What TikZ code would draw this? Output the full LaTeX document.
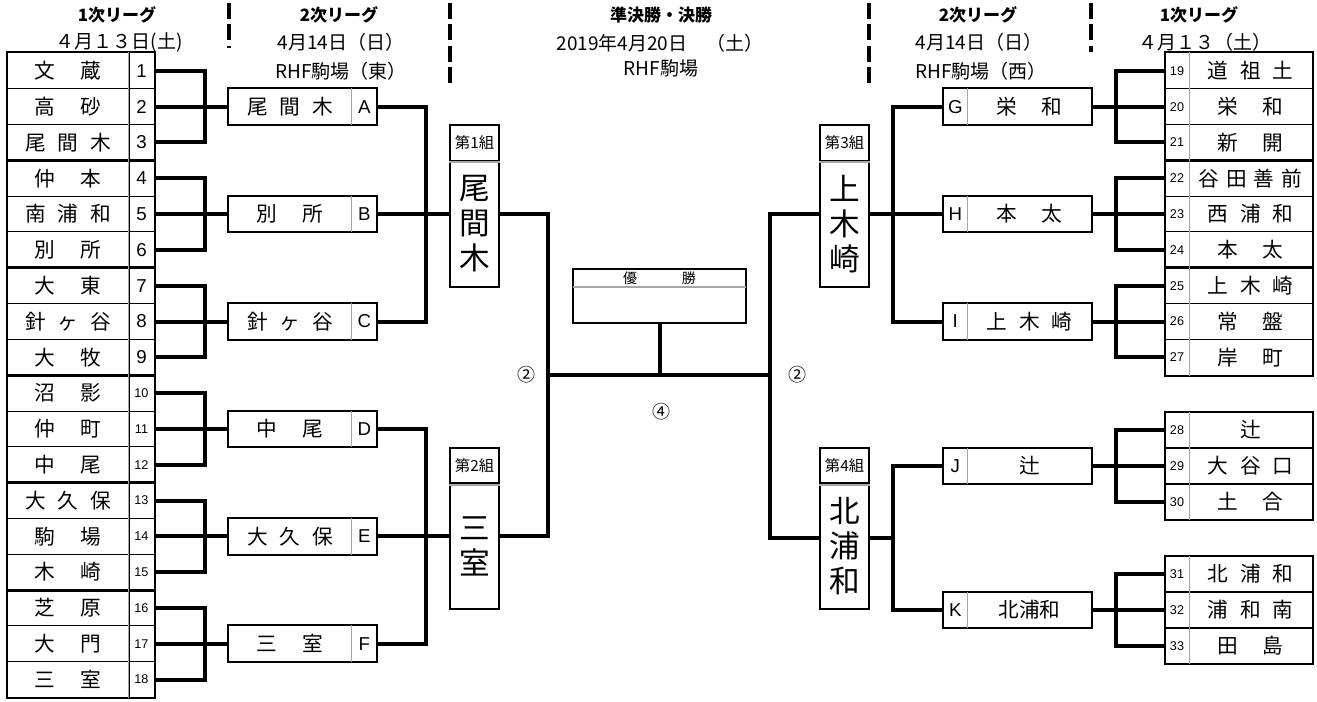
\documentclass[tikz,border=0pt]{standalone}
\usepackage{fontspec}
\setmainfont{Noto Sans CJK JP}
\newfontfamily\arialfont{Liberation Sans}
\usepackage{tikz}
\newcommand\namefont{\fontsize{15.5pt}{17pt}\selectfont}
\newcommand\bignum{\arialfont\fontsize{14pt}{15pt}\selectfont}
\newcommand\smallnum{\arialfont\fontsize{9.5pt}{10pt}\selectfont}
\newcommand\groupfont{\fontsize{23pt}{26.25pt}\selectfont}
\newcommand\two[2]{#1\hspace{1.2em}#2}
\newcommand\three[3]{#1\hspace{.57em}#2\hspace{.57em}#3}
\newcommand\four[4]{#1\hspace{.33em}#2\hspace{.33em}#3\hspace{.33em}#4}
\tikzstyle{team} = [draw=black, line width=0.75pt, minimum width=91.5pt, minimum height=26.85pt, inner sep=0pt, font=\namefont]
\tikzstyle{num} = [draw=black, line width=0.75pt, minimum width=18.75pt, minimum height=26.85pt, inner sep=0pt, font=\bignum]
\tikzstyle{snum} = [num, font=\smallnum]
\tikzstyle{rteam} = [team, minimum width=92.25pt]
\tikzstyle{rnum} = [snum, minimum width=18pt]
\tikzstyle{tablebox} = [line width=1.5pt]
\tikzstyle{divline} = [line width=0.75pt, draw=gray!70]
\tikzstyle{win} = [minimum width=93pt, minimum height=27pt, inner sep=0pt, font=\namefont]
\tikzstyle{letter} = [minimum width=18.5pt, minimum height=27pt, inner sep=0pt, font=\bignum]
\tikzstyle{winbox} = [draw=black, line width=1.5pt]
\tikzstyle{grouphead} = [draw=black, line width=1.5pt, minimum width=36.75pt, minimum height=27pt, inner sep=0pt, font=\fontsize{11.5pt}{12pt}\selectfont]
\tikzstyle{groupbody} = [draw=black, line width=1.5pt, minimum width=36.75pt, minimum height=94.5pt, inner sep=0pt, align=center, font=\groupfont]
\tikzstyle{bracket} = [line width=3pt]
\tikzstyle{head} = [inner sep=0pt, font=\fontsize{12.75pt}{14pt}\selectfont\bfseries]
\tikzstyle{date} = [inner sep=0pt, font=\fontsize{14.25pt}{16pt}\selectfont]
\tikzstyle{sep} = [line width=2.6pt, dash pattern=on 12pt off 4pt]
\tikzstyle{round} = [inner sep=0pt, font=\fontsize{13.5pt}{14pt}\selectfont]

\begin{document}
\begin{tikzpicture}[x=0.75pt,y=-0.75pt]
  \useasboundingbox (0,0) rectangle (1317,702);
  % headers
  \draw[sep] (229,3) -- (229,48);
  \draw[sep] (450,3) -- (450,88);
  \draw[sep] (869,3) -- (869,88);
  \draw[sep] (1091,3) -- (1091,52);
  \node[head](h1) at (117,15){1次リーグ};
  \node[date](d1) at (119,42){４月１３日(土)};
  \node[head](h2) at (339,15){2次リーグ};
  \node[date](d2) at (341,42){4月14日（日）};
  \node[date](p2) at (341,71){RHF駒場（東）};
  \node[head](h3) at (661,15){準決勝・決勝};
  \node[date](d3) at (660,43){2019年4月20日　（土）};
  \node[date](p3) at (661,68){RHF駒場};
  \node[head](h4) at (978,15){2次リーグ};
  \node[date](d4) at (979,42){4月14日（日）};
  \node[date](p4) at (981,71){RHF駒場（西）};
  \node[head](h5) at (1199,15){1次リーグ};
  \node[date](d5) at (1205,42){４月１３（土）};
  % first league, east
  \node[team](t1) at (68,70.9){\two{文}{蔵}};
  \node[num](n1) at (141.5,70.9){1};
  \node[team](t2) at (68,106.7){\two{高}{砂}};
  \node[num](n2) at (141.5,106.7){2};
  \node[team](t3) at (68,142.5){\three{尾}{間}{木}};
  \node[num](n3) at (141.5,142.5){3};
  \node[team](t4) at (68,178.3){\two{仲}{本}};
  \node[num](n4) at (141.5,178.3){4};
  \node[team](t5) at (68,214.1){\three{南}{浦}{和}};
  \node[num](n5) at (141.5,214.1){5};
  \node[team](t6) at (68,249.9){\two{別}{所}};
  \node[num](n6) at (141.5,249.9){6};
  \node[team](t7) at (68,285.7){\two{大}{東}};
  \node[num](n7) at (141.5,285.7){7};
  \node[team](t8) at (68,321.5){\three{針}{ヶ}{谷}};
  \node[num](n8) at (141.5,321.5){8};
  \node[team](t9) at (68,357.3){\two{大}{牧}};
  \node[num](n9) at (141.5,357.3){9};
  \node[team](t10) at (68,393.1){\two{沼}{影}};
  \node[snum](n10) at (141.5,393.1){10};
  \node[team](t11) at (68,428.9){\two{仲}{町}};
  \node[snum](n11) at (141.5,428.9){11};
  \node[team](t12) at (68,464.7){\two{中}{尾}};
  \node[snum](n12) at (141.5,464.7){12};
  \node[team](t13) at (68,500.5){\three{大}{久}{保}};
  \node[snum](n13) at (141.5,500.5){13};
  \node[team](t14) at (68,536.3){\two{駒}{場}};
  \node[snum](n14) at (141.5,536.3){14};
  \node[team](t15) at (68,572.1){\two{木}{崎}};
  \node[snum](n15) at (141.5,572.1){15};
  \node[team](t16) at (68,607.9){\two{芝}{原}};
  \node[snum](n16) at (141.5,607.9){16};
  \node[team](t17) at (68,643.7){\two{大}{門}};
  \node[snum](n17) at (141.5,643.7){17};
  \node[team](t18) at (68,679.5){\two{三}{室}};
  \node[snum](n18) at (141.5,679.5){18};
  \draw[tablebox] (t1.north west) rectangle (n3.south east);
  \draw[tablebox] (t4.north west) rectangle (n6.south east);
  \draw[tablebox] (t7.north west) rectangle (n9.south east);
  \draw[tablebox] (t10.north west) rectangle (n12.south east);
  \draw[tablebox] (t13.north west) rectangle (n15.south east);
  \draw[tablebox] (t16.north west) rectangle (n18.south east);
  \draw[divline] (n1.north west) -- (n18.south west);
  % first league, west
  \node[rnum](n19) at (1177,70.9){19};
  \node[rteam](t19) at (1250.5,70.9){\three{道}{祖}{土}};
  \node[rnum](n20) at (1177,106.7){20};
  \node[rteam](t20) at (1250.5,106.7){\two{栄}{和}};
  \node[rnum](n21) at (1177,142.5){21};
  \node[rteam](t21) at (1250.5,142.5){\two{新}{開}};
  \node[rnum](n22) at (1177,178.3){22};
  \node[rteam](t22) at (1250.5,178.3){\four{谷}{田}{善}{前}};
  \node[rnum](n23) at (1177,214.1){23};
  \node[rteam](t23) at (1250.5,214.1){\three{西}{浦}{和}};
  \node[rnum](n24) at (1177,249.9){24};
  \node[rteam](t24) at (1250.5,249.9){\two{本}{太}};
  \node[rnum](n25) at (1177,285.7){25};
  \node[rteam](t25) at (1250.5,285.7){\three{上}{木}{崎}};
  \node[rnum](n26) at (1177,321.5){26};
  \node[rteam](t26) at (1250.5,321.5){\two{常}{盤}};
  \node[rnum](n27) at (1177,357.3){27};
  \node[rteam](t27) at (1250.5,357.3){\two{岸}{町}};
  \node[rnum](n28) at (1177,430){28};
  \node[rteam](t28) at (1250.5,430){辻};
  \node[rnum](n29) at (1177,466){29};
  \node[rteam](t29) at (1250.5,466){\three{大}{谷}{口}};
  \node[rnum](n30) at (1177,502){30};
  \node[rteam](t30) at (1250.5,502){\two{土}{合}};
  \node[rnum](n31) at (1177,574){31};
  \node[rteam](t31) at (1250.5,574){\three{北}{浦}{和}};
  \node[rnum](n32) at (1177,610){32};
  \node[rteam](t32) at (1250.5,610){\three{浦}{和}{南}};
  \node[rnum](n33) at (1177,646){33};
  \node[rteam](t33) at (1250.5,646){\two{田}{島}};
  \draw[tablebox] (n19.north west) rectangle (t21.south east);
  \draw[tablebox] (n22.north west) rectangle (t24.south east);
  \draw[tablebox] (n25.north west) rectangle (t27.south east);
  \draw[tablebox] (n28.north west) rectangle (t30.south east);
  \draw[tablebox] (n31.north west) rectangle (t33.south east);
  \draw[divline] (n19.north east) -- (n27.south east);
  \draw[divline] (n28.north east) -- (n30.south east);
  \draw[divline] (n31.north east) -- (n33.south east);
  % second league, east
  \node[win](A) at (290,106.7){\three{尾}{間}{木}};
  \node[letter](la) at (364.25,106.7){A};
  \node[win](B) at (290,214.1){\two{別}{所}};
  \node[letter](lb) at (364.25,214.1){B};
  \node[win](C) at (290,321.5){\three{針}{ヶ}{谷}};
  \node[letter](lc) at (364.25,321.5){C};
  \node[win](D) at (290,428.9){\two{中}{尾}};
  \node[letter](ld) at (364.25,428.9){D};
  \node[win](E) at (290,536.3){\three{大}{久}{保}};
  \node[letter](le) at (364.25,536.3){E};
  \node[win](F) at (290,643.7){\two{三}{室}};
  \node[letter](lf) at (364.25,643.7){F};
  \draw[winbox] (A.north west) rectangle (la.south east);
  \draw[winbox] (B.north west) rectangle (lb.south east);
  \draw[winbox] (C.north west) rectangle (lc.south east);
  \draw[winbox] (D.north west) rectangle (ld.south east);
  \draw[winbox] (E.north west) rectangle (le.south east);
  \draw[winbox] (F.north west) rectangle (lf.south east);
  \draw[divline] (la.north west) -- (la.south west);
  \draw[divline] (lb.north west) -- (lb.south west);
  \draw[divline] (lc.north west) -- (lc.south west);
  \draw[divline] (ld.north west) -- (ld.south west);
  \draw[divline] (le.north west) -- (le.south west);
  \draw[divline] (lf.north west) -- (lf.south west);
  % second league, west
  \node[letter](lg) at (955.25,106.7){G};
  \node[win](G) at (1029.5,106.7){\two{栄}{和}};
  \node[letter](lh) at (955.25,214.1){H};
  \node[win](H) at (1029.5,214.1){\two{本}{太}};
  \node[letter](li) at (955.25,321.5){I};
  \node[win](I) at (1029.5,321.5){\three{上}{木}{崎}};
  \node[letter](lj) at (955.25,466){J};
  \node[win](J) at (1029.5,466){辻};
  \node[letter](lk) at (955.25,610){K};
  \node[win](K) at (1029.5,610){北浦和};
  \draw[winbox] (lg.north west) rectangle (G.south east);
  \draw[winbox] (lh.north west) rectangle (H.south east);
  \draw[winbox] (li.north west) rectangle (I.south east);
  \draw[winbox] (lj.north west) rectangle (J.south east);
  \draw[winbox] (lk.north west) rectangle (K.south east);
  \draw[divline] (lg.north east) -- (lg.south east);
  \draw[divline] (lh.north east) -- (lh.south east);
  \draw[divline] (li.north east) -- (li.south east);
  \draw[divline] (lj.north east) -- (lj.south east);
  \draw[divline] (lk.north east) -- (lk.south east);
  % groups and final
  \node[grouphead](g1h) at (474.5,143){第1組};
  \node[groupbody](g1) at (474.5,224){尾\\間\\木};
  \node[grouphead](g2h) at (474.5,465.5){第2組};
  \node[groupbody](g2) at (474.5,546){三\\室};
  \node[grouphead](g3h) at (844.5,143){第3組};
  \node[groupbody](g3) at (844.5,224){上\\木\\崎};
  \node[grouphead](g4h) at (844.5,465.5){第4組};
  \node[groupbody](g4) at (844.5,546){北\\浦\\和};
  \draw[divline,line width=1.5pt] (g1h.south west) -- (g1h.south east);
  \draw[divline,line width=1.5pt] (g2h.south west) -- (g2h.south east);
  \draw[divline,line width=1.5pt] (g3h.south west) -- (g3h.south east);
  \draw[divline,line width=1.5pt] (g4h.south west) -- (g4h.south east);
  \node[inner sep=0pt, minimum width=129.75pt, minimum height=13.5pt, font=\fontsize{10.5pt}{11pt}\selectfont](winh) at (659.5,278){優\hspace{3.2em}勝};
  \node[inner sep=0pt, minimum width=129.75pt, minimum height=27pt](winb) at (659.5,305){};
  \draw[winbox] (winh.north west) rectangle (winb.south east);
  \draw[divline,line width=1.5pt] (winh.south west) -- (winh.south east);
  % brackets
  \coordinate (j1) at (205,106.7);
  \coordinate (j2) at (205,214.1);
  \coordinate (j3) at (205,321.5);
  \coordinate (j4) at (205,428.9);
  \coordinate (j5) at (205,536.3);
  \coordinate (j6) at (205,643.7);
  \coordinate (k1) at (426,214.1);
  \coordinate (k2) at (426,536.3);
  \coordinate (f1) at (548,375);
  \coordinate (f2) at (770,375);
  \coordinate (k3) at (893,214.1);
  \coordinate (k4) at (893,538);
  \coordinate (j7) at (1116,106.7);
  \coordinate (j8) at (1116,214.1);
  \coordinate (j9) at (1116,321.5);
  \coordinate (j10) at (1116,466);
  \coordinate (j11) at (1116,610);
  \draw[bracket] (n1.east) -| (j1) |- (n3.east);
  \draw[bracket] (n2.east) -- (A.west);
  \draw[bracket] (n4.east) -| (j2) |- (n6.east);
  \draw[bracket] (n5.east) -- (B.west);
  \draw[bracket] (n7.east) -| (j3) |- (n9.east);
  \draw[bracket] (n8.east) -- (C.west);
  \draw[bracket] (n10.east) -| (j4) |- (n12.east);
  \draw[bracket] (n11.east) -- (D.west);
  \draw[bracket] (n13.east) -| (j5) |- (n15.east);
  \draw[bracket] (n14.east) -- (E.west);
  \draw[bracket] (n16.east) -| (j6) |- (n18.east);
  \draw[bracket] (n17.east) -- (F.west);
  \draw[bracket] (la.east) -| (k1) |- (lc.east);
  \draw[bracket] (lb.east) -- (g1.west |- k1);
  \draw[bracket] (ld.east) -| (k2) |- (lf.east);
  \draw[bracket] (le.east) -- (g2.west |- k2);
  \draw[bracket] (g1.east |- k1) -| (f1) |- (g2.east |- k2);
  \draw[bracket] (g3.west |- k3) -| (f2) |- (g4.west |- k4);
  \draw[bracket] (f1) -- (f2);
  \draw[bracket] (winb.south) -- (winb.south |- f1);
  \draw[bracket] (lg.west) -| (k3) |- (li.west);
  \draw[bracket] (g3.east |- k3) -- (lh.west);
  \draw[bracket] (lj.west) -| (k4) |- (lk.west);
  \draw[bracket] (g4.east |- k4) -- (k4);
  \draw[bracket] (n19.west) -| (j7) |- (n21.west);
  \draw[bracket] (G.east) -- (n20.west);
  \draw[bracket] (n22.west) -| (j8) |- (n24.west);
  \draw[bracket] (H.east) -- (n23.west);
  \draw[bracket] (n25.west) -| (j9) |- (n27.west);
  \draw[bracket] (I.east) -- (n26.west);
  \draw[bracket] (n28.west) -| (j10) |- (n30.west);
  \draw[bracket] (J.east) -- (n29.west);
  \draw[bracket] (n31.west) -| (j11) |- (n33.west);
  \draw[bracket] (K.east) -- (n32.west);
  % match counts
  \node[round](r1) at (526,375){②};
  \node[round](r2) at (797,375){②};
  \node[round](r3) at (661,412){④};
\end{tikzpicture}
\end{document}
